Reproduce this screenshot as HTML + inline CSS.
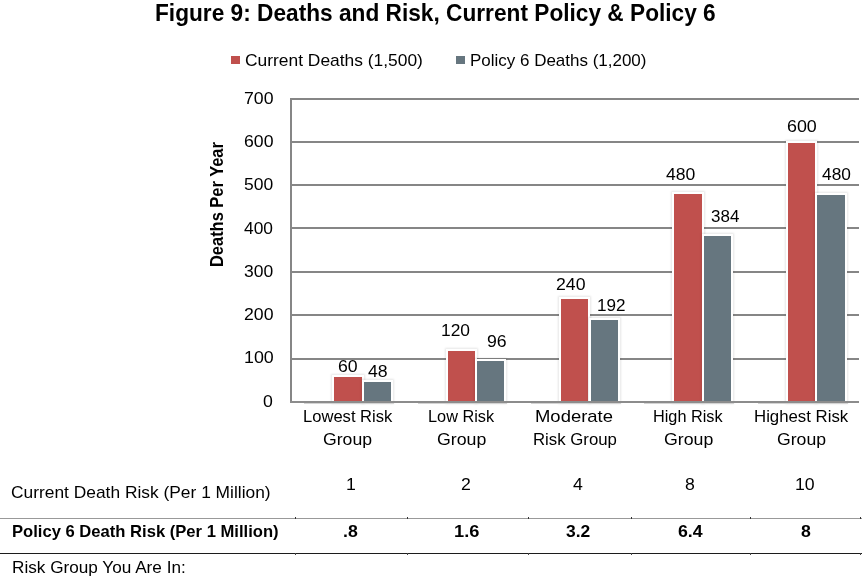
<!DOCTYPE html>
<html lang="en"><head><meta charset="utf-8"><title>Figure 9: Deaths and Risk</title>
<style>
html,body{margin:0;padding:0;background:#fff;}
body{width:865px;height:578px;position:relative;overflow:hidden;font-family:"Liberation Sans", sans-serif;color:#000;}
.t{position:absolute;white-space:nowrap;line-height:1;transform-origin:0 0;}
.b{font-weight:bold;}
.g{position:absolute;left:290px;width:569px;height:2px;background:#868686;}
.bar{position:absolute;box-shadow:0 0 0 2px #fff,0 0 2px 3px rgba(0,0,0,.10);}
.r{background:#c0504d;}
.s{background:#66767f;}
.ln{position:absolute;left:0;width:862px;height:1px;}
.tk{position:absolute;width:1px;height:2px;background:#333;}
</style></head><body>
<div class="g" style="top:98px"></div>
<div class="g" style="top:141px"></div>
<div class="g" style="top:184px"></div>
<div class="g" style="top:227px"></div>
<div class="g" style="top:271px"></div>
<div class="g" style="top:314px"></div>
<div class="g" style="top:358px"></div>
<div style="position:absolute;left:290px;top:98px;width:2px;height:305px;background:#868686"></div>
<div class="bar r" style="left:334px;top:377px;width:28px;height:24px"></div>
<div class="bar s" style="left:364px;top:382px;width:27px;height:19px"></div>
<div class="bar r" style="left:448px;top:351px;width:27px;height:50px"></div>
<div class="bar s" style="left:477px;top:361px;width:27px;height:40px"></div>
<div class="bar r" style="left:561px;top:299px;width:27px;height:102px"></div>
<div class="bar s" style="left:591px;top:320px;width:27px;height:81px"></div>
<div class="bar r" style="left:674px;top:194px;width:28px;height:207px"></div>
<div class="bar s" style="left:704px;top:236px;width:27px;height:165px"></div>
<div class="bar r" style="left:788px;top:143px;width:27px;height:258px"></div>
<div class="bar s" style="left:817px;top:195px;width:28px;height:206px"></div>
<div class="g" style="top:401px;background:#8c8c8c"></div>
<div style="position:absolute;left:304px;top:403px;width:90px;height:1px;background:#d4d4d4"></div>
<div style="position:absolute;left:418px;top:403px;width:89px;height:1px;background:#d4d4d4"></div>
<div style="position:absolute;left:531px;top:403px;width:90px;height:1px;background:#d4d4d4"></div>
<div style="position:absolute;left:644px;top:403px;width:90px;height:1px;background:#d4d4d4"></div>
<div style="position:absolute;left:758px;top:403px;width:90px;height:1px;background:#d4d4d4"></div>
<div style="position:absolute;left:231px;top:56px;width:9px;height:8px;background:#c0504d"></div>
<div style="position:absolute;left:456px;top:56px;width:9px;height:8px;background:#66767f"></div>
<div class="ln" style="top:518px;background:#999"></div>
<div class="ln" style="top:553px;background:#1c1c1c"></div>
<div class="tk" style="left:295px;top:517px"></div><div class="tk" style="left:295px;top:553px;background:#444"></div>
<div class="tk" style="left:407px;top:517px"></div><div class="tk" style="left:407px;top:553px;background:#444"></div>
<div class="tk" style="left:528px;top:517px"></div><div class="tk" style="left:528px;top:553px;background:#444"></div>
<div class="tk" style="left:631px;top:517px"></div><div class="tk" style="left:631px;top:553px;background:#444"></div>
<div class="tk" style="left:750px;top:517px"></div><div class="tk" style="left:750px;top:553px;background:#444"></div>
<div class="tk" style="left:860px;top:517px"></div><div class="tk" style="left:860px;top:553px;background:#444"></div>
<div id="title" class="t b" style="left:154.74px;top:1.00px;font-size:24.00px;transform:scaleX(0.9448)">Figure 9: Deaths and Risk, Current Policy &amp; Policy 6</div>
<div id="leg1" class="t" style="left:244.83px;top:52.00px;font-size:17.00px;transform:scaleX(1.0230)">Current Deaths (1,500)</div>
<div id="leg2" class="t" style="left:469.90px;top:52.00px;font-size:17.00px;transform:scaleX(0.9986)">Policy 6 Deaths (1,200)</div>
<div id="y700" class="t" style="left:243.81px;top:90.00px;font-size:17.00px;transform:scaleX(1.0393)">700</div>
<div id="y600" class="t" style="left:243.81px;top:133.00px;font-size:17.00px;transform:scaleX(1.0393)">600</div>
<div id="y500" class="t" style="left:244.08px;top:176.00px;font-size:17.00px;transform:scaleX(1.0296)">500</div>
<div id="y400" class="t" style="left:244.34px;top:220.00px;font-size:17.00px;transform:scaleX(1.0202)">400</div>
<div id="y300" class="t" style="left:244.08px;top:263.00px;font-size:17.00px;transform:scaleX(1.0296)">300</div>
<div id="y200" class="t" style="left:243.81px;top:306.00px;font-size:17.00px;transform:scaleX(1.0393)">200</div>
<div id="y100" class="t" style="left:243.54px;top:349.00px;font-size:17.00px;transform:scaleX(1.0491)">100</div>
<div id="y0" class="t" style="left:263.31px;top:393.00px;font-size:17.00px;transform:scaleX(1.0400)">0</div>
<div id="c1a" class="t" style="left:302.54px;top:408.00px;font-size:17.00px;transform:scaleX(0.9744)">Lowest Risk</div>
<div id="c1b" class="t" style="left:323.02px;top:431.00px;font-size:17.00px;transform:scaleX(1.0383)">Group</div>
<div id="c2a" class="t" style="left:427.56px;top:408.00px;font-size:17.00px;transform:scaleX(0.9591)">Low Risk</div>
<div id="c2b" class="t" style="left:436.66px;top:431.00px;font-size:17.00px;transform:scaleX(1.0440)">Group</div>
<div id="c3a" class="t" style="left:535.23px;top:408.00px;font-size:17.00px;transform:scaleX(1.0853)">Moderate</div>
<div id="c3b" class="t" style="left:532.52px;top:431.00px;font-size:17.00px;transform:scaleX(0.9873)">Risk Group</div>
<div id="c4a" class="t" style="left:653.11px;top:408.00px;font-size:17.00px;transform:scaleX(0.9572)">High Risk</div>
<div id="c4b" class="t" style="left:663.66px;top:431.00px;font-size:17.00px;transform:scaleX(1.0440)">Group</div>
<div id="c5a" class="t" style="left:753.87px;top:408.00px;font-size:17.00px;transform:scaleX(0.9877)">Highest Risk</div>
<div id="c5b" class="t" style="left:777.37px;top:431.00px;font-size:17.00px;transform:scaleX(1.0383)">Group</div>
<div id="d60" class="t" style="left:337.72px;top:358.00px;font-size:17.00px;transform:scaleX(1.0400)">60</div>
<div id="d48" class="t" style="left:367.56px;top:363.00px;font-size:17.00px;transform:scaleX(1.0400)">48</div>
<div id="d120" class="t" style="left:441.17px;top:322.00px;font-size:17.00px;transform:scaleX(1.0210)">120</div>
<div id="d96" class="t" style="left:486.52px;top:333.00px;font-size:17.00px;transform:scaleX(1.0400)">96</div>
<div id="d240" class="t" style="left:556.16px;top:276.00px;font-size:17.00px;transform:scaleX(1.0393)">240</div>
<div id="d192" class="t" style="left:597.39px;top:297.00px;font-size:17.00px;transform:scaleX(1.0057)">192</div>
<div id="d480a" class="t" style="left:665.83px;top:166.00px;font-size:17.00px;transform:scaleX(1.0349)">480</div>
<div id="d384" class="t" style="left:711.10px;top:208.00px;font-size:17.00px;transform:scaleX(0.9982)">384</div>
<div id="d600" class="t" style="left:786.65px;top:118.00px;font-size:17.00px;transform:scaleX(1.0505)">600</div>
<div id="d480b" class="t" style="left:822.39px;top:166.00px;font-size:17.00px;transform:scaleX(1.0182)">480</div>
<div id="ytitle" class="t b" style="left:208.10px;top:267.28px;font-size:18.00px;transform:rotate(-90deg) scaleX(0.9131)">Deaths Per Year</div>
<div id="r1" class="t" style="left:11.38px;top:484.00px;font-size:17.00px;transform:scaleX(1.0216)">Current Death Risk (Per 1 Million)</div>
<div id="r2" class="t b" style="left:11.83px;top:523.00px;font-size:17.00px;transform:scaleX(0.9764)">Policy 6 Death Risk (Per 1 Million)</div>
<div id="r3" class="t" style="left:11.69px;top:559.00px;font-size:17.00px;transform:scaleX(1.0101)">Risk Group You Are In:</div>
<div id="v1a" class="t" style="left:345.85px;top:476.00px;font-size:17.00px;transform:scaleX(1.0400)">1</div>
<div id="v1b" class="t" style="left:461.28px;top:476.00px;font-size:17.00px;transform:scaleX(1.0400)">2</div>
<div id="v1c" class="t" style="left:573.36px;top:476.00px;font-size:17.00px;transform:scaleX(1.0400)">4</div>
<div id="v1d" class="t" style="left:685.31px;top:476.00px;font-size:17.00px;transform:scaleX(1.0400)">8</div>
<div id="v1e" class="t" style="left:795.23px;top:476.00px;font-size:17.00px;transform:scaleX(1.0400)">10</div>
<div id="v2a" class="t b" style="left:343.25px;top:523.00px;font-size:17.00px;transform:scaleX(1.0400)">.8</div>
<div id="v2b" class="t b" style="left:454.22px;top:523.00px;font-size:17.00px;transform:scaleX(1.0727)">1.6</div>
<div id="v2c" class="t b" style="left:566.14px;top:523.00px;font-size:17.00px;transform:scaleX(1.0267)">3.2</div>
<div id="v2d" class="t b" style="left:677.72px;top:523.00px;font-size:17.00px;transform:scaleX(1.0418)">6.4</div>
<div id="v2e" class="t b" style="left:800.93px;top:523.00px;font-size:17.00px;transform:scaleX(1.0400)">8</div>
</body></html>
